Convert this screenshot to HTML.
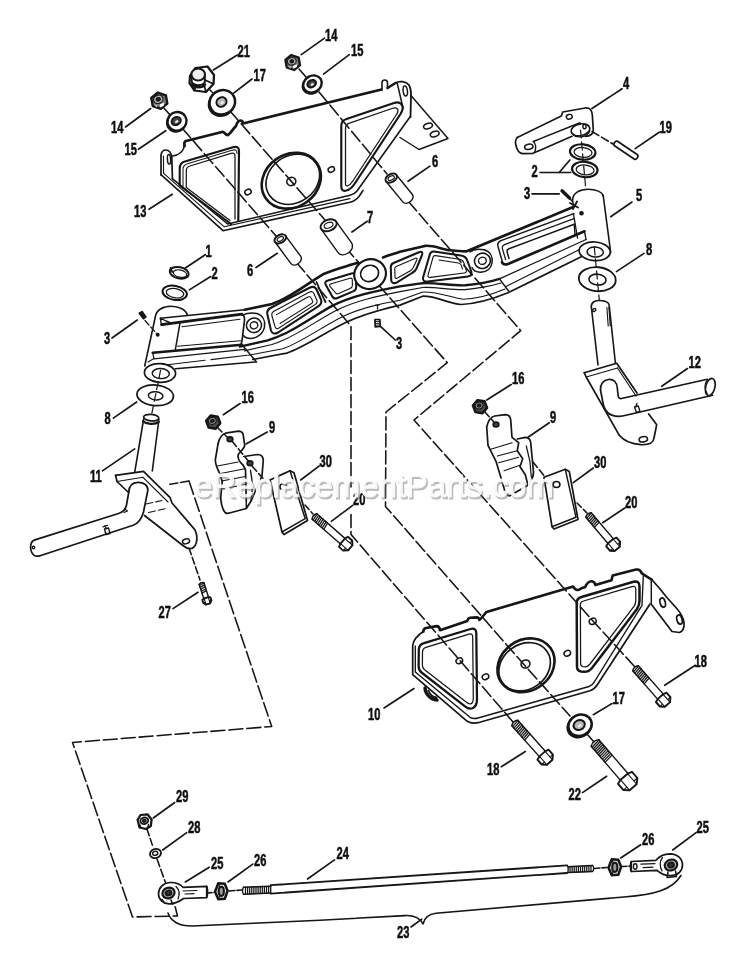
<!DOCTYPE html>
<html><head><meta charset="utf-8"><title>Front Axle Assembly - Parts Diagram</title>
<style>
html,body{margin:0;padding:0;background:#fff;}
body{width:750px;height:967px;overflow:hidden;font-family:"Liberation Sans",sans-serif;}
svg{display:block}
svg path, svg line, svg ellipse{stroke:#141414;fill:none;stroke-linecap:round;stroke-linejoin:round}
svg text{font-family:"Liberation Sans",sans-serif;font-weight:bold;fill:#111;stroke:none}
</style></head><body>
<svg width="750" height="967" viewBox="0 0 750 967">
<defs><filter id="soft" x="-2%" y="-2%" width="104%" height="104%"><feGaussianBlur stdDeviation="0.45"/></filter></defs>
<rect x="0" y="0" width="750" height="967" style="fill:#fff;stroke:none"/>
<g filter="url(#soft)">
<path d="M163,107 L171,116" stroke-width="1.55" stroke-dasharray="13 4"/>
<path d="M182,128 L276,236" stroke-width="1.55" stroke-dasharray="13 4"/>
<path d="M296,262 L351,326 L351,487" stroke-width="1.55" stroke-dasharray="13 4"/>
<path d="M351,514.5 L351,534.5 L459.5,660 L513,722" stroke-width="1.55" stroke-dasharray="13 4"/>
<path d="M210,90 L214,94" stroke-width="1.55" stroke-dasharray="13 4"/>
<path d="M230,111 L325,220" stroke-width="1.55" stroke-dasharray="13 4"/>
<path d="M345,247 L447.3,362.7 L386,412 L385.5,506.5 L523.5,664 L570,716" stroke-width="1.55" stroke-dasharray="13 4"/>
<path d="M587,734 L594,742" stroke-width="1.55" stroke-dasharray="13 4"/>
<path d="M299,69 L306,77" stroke-width="1.55" stroke-dasharray="13 4"/>
<path d="M319,92 L387,174" stroke-width="1.55" stroke-dasharray="13 4"/>
<path d="M408,201 L520.7,330.7 L414,420 L593,621 L635,667" stroke-width="1.55" stroke-dasharray="13 4"/>
<path d="M592,131.5 L613,144" stroke-width="1.55" stroke-dasharray="8 3"/>
<path d="M217,427 L228,438" stroke-width="1.55" stroke-dasharray="7 3"/>
<path d="M232,441 L250,463" stroke-width="1.55" stroke-dasharray="7 3"/>
<path d="M252,466 L268,484" stroke-width="1.55" stroke-dasharray="7 3"/>
<path d="M305,505 L313,514" stroke-width="1.55" stroke-dasharray="6 3"/>
<path d="M484.5,411.5 L493.5,421.5" stroke-width="1.55" stroke-dasharray="7 3"/>
<path d="M533,462 L546,478" stroke-width="1.55" stroke-dasharray="7 3"/>
<path d="M577,503 L587,513" stroke-width="1.55" stroke-dasharray="6 3"/>
<path d="M189,548 L200,580" stroke-width="1.55" stroke-dasharray="7 3"/>
<path d="M169.9,484.3 L189,481" stroke-width="1.55" stroke-dasharray="8 3"/>
<path d="M189,481 L271.7,726.5 L72.5,742.5 L132.5,917 L177.5,916 L174.5,904" stroke-width="1.55" stroke-dasharray="14 4"/>
<path d="M147,829 L153,847" stroke-width="1.55" stroke-dasharray="7 3"/>
<path d="M157,859 L166,884" stroke-width="1.55" stroke-dasharray="8 3"/>
<path d="M207,893 L214,892.5" stroke-width="1.55" stroke-dasharray="5 2"/>
<path d="M229,891 L242,890" stroke-width="1.55" stroke-dasharray="6 2"/>
<path d="M594,868.5 L607,867.5" stroke-width="1.55" stroke-dasharray="6 2"/>
<path d="M622,866.5 L631,866" stroke-width="1.55" stroke-dasharray="5 2"/>
<path d="M410.5,95 L448,138.5 L419,149.5 L400,137.5" stroke-width="1.47" />
<ellipse cx="428" cy="126" rx="4.6" ry="2.6" stroke-width="1.47" fill="none" transform="rotate(-20 428 126)"/>
<ellipse cx="434.7" cy="134" rx="4.6" ry="2.6" stroke-width="1.47" fill="none" transform="rotate(-20 434.7 134)"/>
<path d="M184.5,146 C184,143 184.5,141.5 186,141 L222,132 C224.5,131.5 225.5,135.5 228,135 C230,134 233,129 236,126 C237,122.5 238.5,120.5 240.5,120.5 C242,120.5 242.8,122 243,123.5 L381.5,89.5" stroke-width="2.71" />
<path d="M184.5,145 C184,151 179,155.5 172.5,156" stroke-width="1.47" />
<path d="M161,175 L161,155 C161.5,151.5 163.5,150 166,150 C169,150 171,152.5 171.8,157 L172.4,178.5" stroke-width="1.69" />
<path d="M163.5,173 L163.5,156" stroke-width="1.13" />
<ellipse cx="169" cy="159.3" rx="1.6" ry="4.8" stroke-width="1.47" fill="none" transform="rotate(-3 169 159.3)"/>
<path d="M161,174.7 L223,230.7 L350,202.3 C354,201.3 357,199 359,196.5 L363,190.5" stroke-width="1.58" />
<path d="M163.7,173.3 L224.3,226.8 L350,198.6" stroke-width="1.13" />
<path d="M172.3,178.7 L227.7,224 L350,195.3 C353.5,194.5 355.5,193 357,191 L410.3,116.5" stroke-width="1.58" />
<path d="M382,90 L382,82.7 A2.75,2.75 0 0 1 387.5,82.7 L387.5,88.5" stroke-width="1.58" style="fill:#fff"/>
<path d="M387.5,88 L395.5,83" stroke-width="2.49" />
<path d="M395.5,83 C399,80.5 406,81.3 409,85 C410.8,88 411,92 411,95 L410.5,117" stroke-width="1.81" />
<path d="M397.3,83.5 L403,108" stroke-width="1.47" />
<ellipse cx="405.3" cy="91" rx="2.1" ry="5" stroke-width="1.47" fill="none" transform="rotate(-8 405.3 91)"/>
<path d="M179.7,185.5 L179.7,168.5 C179.7,164 182,162 185.7,161.2 L233,147.2 C237,146.2 239,147.5 239,151 L238.3,220.5 M179.7,185.5 L231,224" stroke-width="2.15" />
<path d="M186.3,187.5 L186.3,171 C186.3,168 187.5,166.6 190,166 L231,153.3 C234,152.5 235,153.5 235,156 L235,219 M186.3,187.5 L230,220.5" stroke-width="1.24" />
<path d="M183,186.5 L183,169.5 C183,166 184.5,164.5 187.5,163.7 L232,150.2 C236,149.2 237,150.5 237,153.5" stroke-width="1.02" />
<path d="M341.3,186 L341.3,126 C341.3,122 343,120 346.5,119 L394,103 C398.5,101.5 402,103 402.7,107 C403,109 402,111.5 400.5,114 L354.5,184 C351.5,188.5 349.5,190 345.5,190.8 C342.5,191.3 341.3,189.5 341.3,186 Z" stroke-width="2.15" />
<path d="M345.5,184 L345.5,128.5 C345.5,125.5 346.7,124 349.5,123.2 L392,108.5 C395.5,107.3 398,108 398,110.5 C398,111.8 397.5,113 396.5,114.5 L352.5,181.5 C350.8,184 349.5,185.3 347.5,185.8 C346,186 345.5,185.5 345.5,184 Z" stroke-width="1.24" />
<ellipse cx="291.3" cy="180.7" rx="31" ry="26.3" stroke-width="2.6" fill="none" transform="rotate(-35 291.3 180.7)"/>
<ellipse cx="292.8" cy="179.3" rx="28.3" ry="23.4" stroke-width="1.58" fill="none" transform="rotate(-35 292.8 179.3)"/>
<ellipse cx="291.3" cy="181.5" rx="4.6" ry="4" stroke-width="1.58" fill="none" transform="rotate(-20 291.3 181.5)"/>
<ellipse cx="248" cy="192" rx="3.3" ry="2.6" stroke-width="1.47" fill="none" transform="rotate(-25 248 192)"/>
<ellipse cx="331.3" cy="169.5" rx="3.3" ry="2.6" stroke-width="1.47" fill="none" transform="rotate(-25 331.3 169.5)"/>
<path d="M167.4,103.6 L160.8,108.9 L152.7,106.1 L151.2,97.8 L157.8,92.5 L165.9,95.3Z" stroke-width="2.3" style="fill:#777"/>
<ellipse cx="158.3" cy="99.3" rx="4.8" ry="4.1" stroke-width="1.13" style="fill:#b5b5b5" transform="rotate(-15 158.3 99.3)"/>
<ellipse cx="158.3" cy="99.3" rx="2.1" ry="1.7" stroke-width="1.13" style="fill:#222" transform="rotate(-15 158.3 99.3)"/>
<path d="M159.5,104.8 L164.0,102.6 L163.8,105.7 L160.3,107.6 Z" style="fill:#fff;stroke:none"/>
<path d="M154.0,104.3 L157.2,105.4 L156.7,107.6 Z" style="fill:#ddd;stroke:none"/>
<ellipse cx="176.3" cy="122.5" rx="9.6" ry="9.2" stroke-width="1.93" style="fill:#fff" transform="rotate(-30 176.3 122.5)"/>
<ellipse cx="177" cy="121.3" rx="9.6" ry="9.2" stroke-width="2.37" style="fill:#fff" transform="rotate(-30 177 121.3)"/>
<ellipse cx="176.2" cy="121.0" rx="4.8" ry="3.9" stroke-width="1.93" style="fill:#444" transform="rotate(-30 176.2 121.0)"/>
<ellipse cx="176.8" cy="121.7" rx="2.0" ry="1.3" stroke-width="0.11" style="fill:#eee" transform="rotate(-30 176.8 121.7)"/>
<path d="M190,76 L195.5,68 L207.5,66.5 L214,75 L213.5,84 L206,92 L194.5,90.5 L189.5,83 Z" stroke-width="2.26" style="fill:#fff"/>
<ellipse cx="198.2" cy="74.5" rx="6.8" ry="6" stroke-width="2.03" style="fill:#eee"/>
<path d="M191.6,76.5 L191.8,82 C193.5,85.8 201.5,86.5 204.8,82.5 L204.9,76" stroke-width="1.92" />
<path d="M194.5,90.5 L196,85.2 M206,92 L204,84.5 M213.5,84 L205,80" stroke-width="1.69" />
<path d="M192,84.5 C195,88 202,88.5 205,84.5" stroke-width="2.49" />
<ellipse cx="221.5" cy="103.7" rx="13" ry="12" stroke-width="2.03" style="fill:#fff" transform="rotate(-30 221.5 103.7)"/>
<ellipse cx="222.3" cy="102.3" rx="13" ry="12" stroke-width="2.49" style="fill:#fff" transform="rotate(-30 222.3 102.3)"/>
<ellipse cx="221.5" cy="102.0" rx="5.2" ry="4.6" stroke-width="2.03" style="fill:#bbb" transform="rotate(-30 221.5 102.0)"/>
<ellipse cx="222.1" cy="102.7" rx="2.2" ry="1.6" stroke-width="0.11" style="fill:#eee" transform="rotate(-30 222.1 102.7)"/>
<path d="M300.0,65.1 L294.1,70.0 L286.7,67.4 L285.4,59.9 L291.3,55.0 L298.7,57.6Z" stroke-width="2.3" style="fill:#777"/>
<ellipse cx="291.8" cy="61.3" rx="4.4" ry="3.7" stroke-width="1.13" style="fill:#b5b5b5" transform="rotate(-15 291.8 61.3)"/>
<ellipse cx="291.8" cy="61.3" rx="1.9" ry="1.6" stroke-width="1.13" style="fill:#222" transform="rotate(-15 291.8 61.3)"/>
<path d="M292.9,66.2 L297.0,64.2 L296.8,67.0 L293.6,68.7 Z" style="fill:#fff;stroke:none"/>
<path d="M287.9,65.8 L290.8,66.8 L290.4,68.7 Z" style="fill:#ddd;stroke:none"/>
<ellipse cx="311.8" cy="85.2" rx="9.6" ry="8.2" stroke-width="1.93" style="fill:#fff" transform="rotate(-30 311.8 85.2)"/>
<ellipse cx="312.5" cy="84" rx="9.6" ry="8.2" stroke-width="2.37" style="fill:#fff" transform="rotate(-30 312.5 84)"/>
<ellipse cx="311.7" cy="83.7" rx="4.6" ry="3.5" stroke-width="1.93" style="fill:#444" transform="rotate(-30 311.7 83.7)"/>
<ellipse cx="312.3" cy="84.4" rx="1.9" ry="1.2" stroke-width="0.11" style="fill:#eee" transform="rotate(-30 312.3 84.4)"/>
<path d="M395.9,174.2 L412.2,194.2 C416.1,198.9 406.6,206.6 402.8,201.9 L386.5,182.0" stroke-width="1.4" style="fill:#fff"/>
<ellipse cx="391.2" cy="178.1" rx="6.2" ry="4.0" stroke-width="1.92" style="fill:#fff" transform="rotate(-28 391.2 178.1)"/>
<ellipse cx="391.2" cy="178.1" rx="3.4" ry="2.0" stroke-width="1.13" fill="none" transform="rotate(-28 391.2 178.1)"/>
<path d="M285.2,235.3 L300.6,256.2 C304.2,261.1 294.4,268.3 290.8,263.4 L275.4,242.5" stroke-width="1.4" style="fill:#fff"/>
<ellipse cx="280.3" cy="238.9" rx="6.2" ry="4.0" stroke-width="1.92" style="fill:#fff" transform="rotate(-28 280.3 238.9)"/>
<ellipse cx="280.3" cy="238.9" rx="3.4" ry="2.0" stroke-width="1.13" fill="none" transform="rotate(-28 280.3 238.9)"/>
<path d="M335.3,220.4 L351.6,242.9 C356.4,249.6 343.0,259.3 338.1,252.6 L321.9,230.2" stroke-width="1.4" style="fill:#fff"/>
<ellipse cx="328.6" cy="225.3" rx="8.5" ry="5.5" stroke-width="1.92" style="fill:#fff" transform="rotate(-22 328.6 225.3)"/>
<ellipse cx="328.6" cy="225.3" rx="4.6" ry="2.7" stroke-width="1.13" fill="none" transform="rotate(-22 328.6 225.3)"/>
<path d="M155.3,317 C156,310 163,306.3 171,306.3 C179,306.3 186.5,310 187.3,315.3" stroke-width="1.58" />
<path d="M155.3,317 L144.7,366" stroke-width="1.58" />
<ellipse cx="160" cy="373" rx="15.6" ry="9.3" stroke-width="1.69" style="fill:#fff" transform="rotate(3 160 373)"/>
<ellipse cx="160.8" cy="373.6" rx="8.6" ry="5" stroke-width="1.47" fill="none" transform="rotate(3 160.8 373.6)"/>
<path d="M160.3,318.2 L244.7,309.8" stroke-width="1.47" />
<path d="M160.3,318.2 L161.5,325 L172,323.4 L166,321 Z" stroke-width="1.36" />
<path d="M161.5,324.6 L242,314.2" stroke-width="2.71" />
<path d="M241.7,314 C244.6,315.2 244.8,318 244.4,321 L242.6,336 C242.2,340 241.6,343 240.8,344.6" stroke-width="1.69" />
<path d="M180,323 L175.3,349.8" stroke-width="1.47" />
<path d="M182,326.8 L240,319.2" stroke-width="1.13" />
<path d="M177.5,346.2 L240.5,340.8" stroke-width="1.02" />
<path d="M152.7,352.7 L242,344.7" stroke-width="2.6" />
<path d="M152.7,352.7 L154,358.8 L244.5,349.3" stroke-width="1.24" />
<path d="M154,358.6 L148,362" stroke-width="1.13" />
<path d="M167.3,364.7 L205,360.3 M211,359.6 L247.3,355.3" stroke-width="1.13" />
<path d="M175.3,368.7 L255.3,362" stroke-width="1.58" />
<path d="M242,315.3 C246,313.5 252,312.5 257,313.5 C263,315.5 265.5,321 264.5,327 C263.5,333 258,338 251,338.5 C247,338.5 244.5,337 243.5,335.5" stroke-width="1.47" />
<ellipse cx="254" cy="325.3" rx="7.6" ry="7.2" stroke-width="1.58" style="fill:#fff" transform="rotate(-15 254 325.3)"/>
<ellipse cx="254" cy="325.3" rx="3.8" ry="3.5" stroke-width="1.36" fill="none" transform="rotate(-15 254 325.3)"/>
<path d="M242,344.7 L256.5,362" stroke-width="1.47" />
<path d="M244.7,309.8 L272,304 C290,298 305,285 323,274.3 C335,269 348,266 358,262.6" stroke-width="2.6" />
<path d="M383,257.4 C390,255 395,253.5 400,251.7 L424.8,245.9 C434,245 442,249.5 450.4,250.3 C457,251 462,251.5 466.7,251.3 L572.5,207.3" stroke-width="2.6" />
<path d="M270.5,308 L310,287.5 C313.5,286 315.5,287 316.8,290 L321,299.5 C322,302.5 321,304.5 318.5,306.2 L278,332.5 C274.5,334.5 272,333.5 271,330.5 L267.3,314 C266.8,311 268,309.2 270.5,308 Z" stroke-width="2.03" />
<path d="M273.5,311.6 L309,292.2 C311.5,291 313,291.6 313.8,293.6 L316.8,300 C317.6,302 317,303.3 315,304.6 L279,328 C277,329.2 275.6,328.6 275,326.6 L272,316 C271.4,313.8 272,312.5 273.5,311.6 Z" stroke-width="1.13" />
<path d="M276.5,314.6 L308,297 C309.5,296.2 310.5,296.6 311,297.8 L312.6,301 C313,302 312.6,302.8 311.5,303.5 L280,323.5" stroke-width="1.02" />
<path d="M316.5,282 C319,288 322,295 325.5,302" stroke-width="1.81" />
<path d="M328,280.5 L351.5,273.5 C354.5,272.7 356,274 356,276.5 L356.2,287 C356.2,289.5 355,290.8 352.5,291.6 L337.5,298 C334.8,299 333,298.3 332,296 L325.6,284.6 C324.6,282.4 325.5,281.2 328,280.5 Z" stroke-width="2.03" />
<path d="M330.5,284 L350,278.2 C351.6,277.8 352.3,278.5 352.3,280 L352.4,285.5 C352.4,287 351.6,287.8 350,288.4 L338.6,293.5 C337,294.2 336,293.8 335.3,292.5 L330,286.3 C329.3,285 329.5,284.3 330.5,284 Z" stroke-width="1.13" />
<ellipse cx="370.1" cy="274.1" rx="16" ry="14.8" stroke-width="2.15" style="fill:#fff" transform="rotate(-20 370.1 274.1)"/>
<ellipse cx="369.6" cy="273.4" rx="9.2" ry="8" stroke-width="1.69" fill="none" transform="rotate(-20 369.6 273.4)"/>
<path d="M393.5,263 L419,252.2 C422,251.2 423,252.5 422,255 L416.5,268.5 C415.5,270.7 414,272 412,273 L397,282.3 C393.5,284 391.3,283 391.2,280 L390.8,267 C390.8,264.8 391.5,263.8 393.5,263 Z" stroke-width="2.03" />
<path d="M396.2,266.5 L415.5,258.3 C417,257.8 417.4,258.5 416.8,260 L413,268 C412.3,269.3 411.4,270.2 410,271 L397.5,278 C395.8,278.8 395,278.3 395,276.8 L394.8,268.5 C394.8,267.3 395.2,266.9 396.2,266.5 Z" stroke-width="1.13" />
<path d="M434,251.6 L461,255.5 C464.5,256 466.3,257.5 467.3,260.5 L471.3,271.5 C472.2,274.5 471,276 468,276.5 L428,281.5 C424,282 422.2,280.3 423.2,277 L429.8,254.5 C430.5,252.2 431.8,251.4 434,251.6 Z" stroke-width="2.03" />
<path d="M435.5,255.6 L459.5,259.3 C462,259.7 463.2,260.7 463.8,262.6 L466.3,270.2 C466.8,272 466,272.8 464,273 L430.5,277.4 C428.3,277.7 427.5,276.7 428.2,274.6 L433,257.3 C433.5,255.8 434.2,255.4 435.5,255.6 Z" stroke-width="1.13" />
<path d="M439,260 L458.5,263 C460,263.3 460.8,264 461.2,265.2 L462.5,269" stroke-width="1.02" />
<path d="M470,252 C473,249.5 479,248.8 484,249.8 C490.5,251.5 493,257 492,263 C491,268.5 486.5,271.8 481,272.2 C476,272.3 473,270 472,267.5" stroke-width="1.47" />
<ellipse cx="482.4" cy="260.8" rx="8" ry="7.6" stroke-width="1.58" style="fill:#fff" transform="rotate(-15 482.4 260.8)"/>
<ellipse cx="482.4" cy="260.8" rx="3.9" ry="3.6" stroke-width="1.36" fill="none" transform="rotate(-15 482.4 260.8)"/>
<path d="M240,346.7 L267.7,340.3 C290,334 310,318 331.7,306.1 C352,296 375,291 400,286.3 L422.7,283.2 C437,282.5 452,286 465.3,285.3 C478,284 490,282 499.5,278.9" stroke-width="2.37" />
<path d="M499.5,278.9 L586,239.5" stroke-width="1.24" />
<path d="M244.3,350.9 L272,344.5 C294,338 314,322 336,310.4 C356,300.5 378,296 400,291.6 L422.7,287.5 C437,286.8 452,290.3 465.3,289.6 C478,288.3 490,286.3 501,283" stroke-width="1.13" />
<path d="M248.5,355.2 L282.7,348.8 C300,343 322,327 342.4,316.8 C360,308 380,304 400,300.3 L422.7,292 C437,291.5 450,297 463,299.3 C478,298.5 492,294.5 505,289" stroke-width="1.13" />
<path d="M252.8,359.5 L286.9,353.1 C305,347 325,332.5 346.7,322.1 C364,314 383,309 400,305.1 L422.7,296.2 C437,296 449,304 461,304.5 C478,304 494,298.5 508,292.8 L581.3,256.7" stroke-width="1.69" />
<path d="M499.5,278.9 L508.5,291" stroke-width="1.47" />
<path d="M506,286.5 L583.5,247.5" stroke-width="1.13" />
<path d="M573.8,213.6 L501,240.6 C498,241.7 497.2,243.3 498,246.5 L502.3,261.5" stroke-width="1.47" />
<path d="M573.9,218.6 L504.5,244.6 C502.3,245.5 501.8,246.6 502.4,248.6 L505.6,259.5" stroke-width="1.24" />
<path d="M574.2,224.2 L509,248.7 C507,249.5 506.6,250.5 507.2,252.3 L509,258.5" stroke-width="1.47" />
<path d="M502,262.3 C503,264.6 505,265 508,264 L584.5,231.3" stroke-width="2.6" />
<path d="M574.2,224.2 L575,234.6" stroke-width="1.36" />
<path d="M584.5,231.3 L586,239.5" stroke-width="1.36" />
<path d="M572.6,199.5 C573,193 580,189.2 588,189.2 C596,189.2 602.5,192 603.2,196" stroke-width="1.58" />
<path d="M603.2,195.5 L610.7,252.7" stroke-width="1.58" />
<path d="M572.6,199.5 L573.5,207" stroke-width="1.47" />
<path d="M573.5,214 L577.5,238" stroke-width="1.36" />
<ellipse cx="594.7" cy="251.3" rx="15.6" ry="9.3" stroke-width="1.69" style="fill:#fff" transform="rotate(4 594.7 251.3)"/>
<ellipse cx="595.2" cy="252" rx="8.2" ry="5" stroke-width="1.47" fill="none" transform="rotate(4 595.2 252)"/>
<path d="M570,203 L578,207.5 M577,201.5 L573,209" stroke-width="1.81" />
<ellipse cx="581.5" cy="213.3" rx="1.4" ry="1.4" stroke-width="1.81" style="fill:#111"/>
<ellipse cx="157.7" cy="334.8" rx="1.2" ry="1.2" stroke-width="1.58" style="fill:#111"/>
<path d="M145,320.5 L156.8,333.8" stroke-width="1.24" stroke-dasharray="6 2.5"/>
<ellipse cx="179.2" cy="272.8" rx="9.6" ry="5.6" stroke-width="2.03" style="fill:#fff" transform="rotate(12 179.2 272.8)"/>
<ellipse cx="180" cy="273.6" rx="6.8" ry="3.6" stroke-width="1.13" fill="none" transform="rotate(12 180 273.6)"/>
<path d="M170.5,268 L172.3,272" stroke-width="1.81" />
<ellipse cx="174.7" cy="292.8" rx="12.3" ry="7" stroke-width="2.03" style="fill:#fff" transform="rotate(10 174.7 292.8)"/>
<ellipse cx="175" cy="293.2" rx="8.8" ry="4.6" stroke-width="1.24" fill="none" transform="rotate(10 175 293.2)"/>
<path d="M139.8,313.2 L143.6,318.2 M141.8,312 L145.4,317" stroke-width="2.6" />
<path d="M375,319.5 L379.8,319.5 L380.2,326.5 L375.2,326.8 Z" stroke-width="1.69" />
<path d="M375,321.5 L380,321.3 M375.2,323.5 L380.2,323.3 M375.3,325.2 L380.2,325" stroke-width="1.02" />
<path d="M375.5,305 L379.5,305 M377.5,305 L377.5,309" stroke-width="1.24" />
<ellipse cx="155.2" cy="395.3" rx="18.3" ry="10.3" stroke-width="1.69" style="fill:#fff" transform="rotate(5 155.2 395.3)"/>
<ellipse cx="155.6" cy="395.8" rx="7.3" ry="4.1" stroke-width="1.47" fill="none" transform="rotate(5 155.6 395.8)"/>
<ellipse cx="597.3" cy="279.2" rx="18.5" ry="12" stroke-width="1.81" style="fill:#fff" transform="rotate(5 597.3 279.2)"/>
<ellipse cx="597.5" cy="279.6" rx="8.6" ry="5.4" stroke-width="1.58" fill="none" transform="rotate(5 597.5 279.6)"/>
<ellipse cx="582.7" cy="152" rx="12.8" ry="7.7" stroke-width="2.15" style="fill:#fff" transform="rotate(5 582.7 152)"/>
<ellipse cx="583" cy="152.4" rx="9" ry="4.9" stroke-width="1.24" fill="none" transform="rotate(5 583 152.4)"/>
<ellipse cx="584.8" cy="169.5" rx="12.8" ry="7.7" stroke-width="2.15" style="fill:#fff" transform="rotate(5 584.8 169.5)"/>
<ellipse cx="585.1" cy="169.9" rx="9" ry="4.9" stroke-width="1.24" fill="none" transform="rotate(5 585.1 169.9)"/>
<path d="M562,190.8 L569.5,198" stroke-width="3.39" />
<path d="M568.5,197 L572,201" stroke-width="1.36" />
<path d="M614.5,145.7 L634.5,159.2 C636.5,160.2 639,156.2 637.5,154.8 L617.5,141.3 C615.3,140.2 612.8,144.2 614.5,145.7 Z" stroke-width="1.69" style="fill:#fff"/>
<path d="M517.3,137.5 L561.3,116 L562.7,112 L585.3,108 C589.5,107.5 592,110 592.3,114.7 L593.3,130 C593.5,134 590,136 585.3,136.5" stroke-width="1.69" />
<path d="M517.3,137.5 C515.3,139.5 515.3,143 516,145.5 C517,150 519,153.3 522.5,153.6 L533,153.3 L572,136.3" stroke-width="1.69" />
<path d="M533.3,141.5 L580,122.7" stroke-width="1.47" />
<path d="M533.3,141.5 C535.5,143.5 536.3,147.5 534.7,152" stroke-width="1.36" />
<ellipse cx="580.5" cy="129.8" rx="9.5" ry="5.8" stroke-width="1.69" fill="none" transform="rotate(-12 580.5 129.8)"/>
<path d="M572.5,133.5 C574,137.8 585,138.8 589.5,131.8" stroke-width="1.24" />
<ellipse cx="584.5" cy="126.5" rx="1.6" ry="2.2" stroke-width="1.36" fill="none"/>
<ellipse cx="569.3" cy="116.8" rx="3" ry="2.3" stroke-width="1.47" fill="none" transform="rotate(-15 569.3 116.8)"/>
<ellipse cx="528.8" cy="146.8" rx="4.2" ry="2.6" stroke-width="1.58" fill="none" transform="rotate(-12 528.8 146.8)"/>
<path d="M591.3,306.5 C591.5,301.5 596,300.3 600,300.5 C605,300.7 609,302 609.2,305.5 L615.4,363" stroke-width="1.58" />
<path d="M591.3,306.5 L598,365" stroke-width="1.58" />
<ellipse cx="594.2" cy="310" rx="1.8" ry="1.3" stroke-width="1.36" fill="none" transform="rotate(-30 594.2 310)"/>
<path d="M606.9,307.5 L608.2,326 M608.9,307.3 L610.2,325.8" stroke-width="1.13" />
<path d="M584.2,372.7 L616.7,363.3 L637,393" stroke-width="1.69" />
<path d="M584.2,372.7 L586.2,377 L619.3,435.3 C624,441 632,444 640.7,444.7 C648,445 653.5,443 654,438 L656.7,424.7 L648.7,414" stroke-width="1.69" />
<path d="M586.2,377 L617.5,368" stroke-width="1.13" />
<path d="M617.5,368 L636,396" stroke-width="1.13" />
<ellipse cx="643.3" cy="439.3" rx="4.2" ry="2.6" stroke-width="1.58" fill="none" transform="rotate(-10 643.3 439.3)"/>
<path d="M600.5,390 C600,384 603.5,380 608.5,379.5 C614,379 617,382.5 617.3,388 L618.2,396 C618.5,398.3 620,399 622.5,398.3 L707.3,379.3" stroke-width="1.69" />
<path d="M600.5,390 L603,403 C604.5,411.5 610,416.5 619,416.3 C622,416.2 625,415.5 627,415 L712.7,395.3" stroke-width="1.69" />
<ellipse cx="710.3" cy="387" rx="4.6" ry="8.8" stroke-width="1.69" style="fill:#fff" transform="rotate(14 710.3 387)"/>
<path d="M706.8,380.5 C704,384 704.5,390 707.2,393.5" stroke-width="1.13" />
<path d="M634.5,407 L636.5,412.5 L640,411.5 L638.3,406 Z" stroke-width="1.36" />
<path d="M636,406 L637,403.5" stroke-width="1.36" />
<ellipse cx="151.2" cy="417.6" rx="7.6" ry="3.2" stroke-width="1.69" style="fill:#fff" transform="rotate(5 151.2 417.6)"/>
<path d="M143.7,418.5 L143.3,421 M158.9,419.3 L158.6,422" stroke-width="1.36" />
<path d="M143.2,421 C146,424.3 155,424.8 158.7,421.8" stroke-width="2.26" />
<path d="M143.3,421 L134.7,472.4" stroke-width="1.58" />
<path d="M158.6,422 L152.3,471" stroke-width="1.58" />
<path d="M115.6,475.3 L143.5,471.3 L169.9,497.3 L172,503 L194.8,529.6 C197,534 197.3,539 196.3,542.8 C195,547 192,549 189,548.7 C186,548 184,546.5 181,544 L144.5,515.5" stroke-width="1.69" />
<path d="M115.6,475.3 L117,481.5 L128,492" stroke-width="1.69" />
<path d="M117,481.5 L143,477.3 L168,502" stroke-width="1.13" />
<ellipse cx="186" cy="541.3" rx="3.6" ry="2.4" stroke-width="1.47" fill="none" transform="rotate(-15 186 541.3)"/>
<path d="M146,504 L162,500.5 M148.5,512.5 L166,508.5" stroke-width="1.13" stroke-dasharray="7 3"/>
<path d="M128.8,492 C129,486 132.5,482.5 138,482.3 C143.5,482.2 147.8,485 147.9,490 L143.5,512 C141.5,519.5 138,523.5 133.2,525.2 L39.3,556" stroke-width="1.69" />
<path d="M128.8,492 L126.5,505 C125.5,509.5 123,512.3 118.5,513.5 L34.9,539.9" stroke-width="1.69" />
<path d="M34.9,539.9 C31.5,541 30.2,545 30.8,549.5 C31.5,554 34.5,557 39.3,556" stroke-width="1.69" />
<ellipse cx="33.5" cy="547.5" rx="1.3" ry="1.3" stroke-width="1.24" fill="none"/>
<path d="M104.5,529 L106,534.5 L110,533.5 L108.5,528 Z" stroke-width="1.36" />
<path d="M106,528.5 L105,525.5 M103,526.8 L107.5,525.3" stroke-width="1.24" />
<path d="M124.5,509 L127.5,511 L124,512.5" stroke-width="1.13" />
<path d="M220.3,423.3 L215.7,428.7 L208.6,427.5 L206.1,420.9 L210.7,415.5 L217.8,416.7Z" stroke-width="2.4" style="fill:#4a4a4a"/>
<ellipse cx="212.3" cy="420.9" rx="4.0" ry="3.5" stroke-width="1.13" style="fill:#8a8a8a" transform="rotate(-15 212.3 420.9)"/>
<ellipse cx="212.3" cy="420.9" rx="1.8" ry="1.4" stroke-width="1.13" style="fill:#222" transform="rotate(-15 212.3 420.9)"/>
<path d="M 218.0 444.0 C 219.0 439.0 221.5 434.5 225.5 433.2 L 238.5 431.2 C 241.8 431.3 243.5 433.5 243.5 437.0 L 244.7 445.5 C 244.0 449.0 240.0 452.0 238.2 454.5 C 237.5 458.0 239.5 462.0 243.0 465.0 L 245.5 470.0 L 246.3 501.0" stroke-width="1.69" />
<path d="M 218.0 444.0 L 215.3 460.0 C 215.5 464.0 217.0 468.0 219.0 472.0 L 222.3 481.5 L 220.7 497.5 C 221.0 503.0 222.3 508.0 224.0 511.0 C 225.0 513.0 226.5 513.6 228.5 513.2 L 246.3 508.5 C 248.0 506.0 249.5 503.5 251.3 500.5 L 262.0 476.0 L 263.3 460.0 C 263.0 456.0 260.5 454.5 257.5 454.5 L 243.8 456.5" stroke-width="1.69" />
<path d="M 246.3 501.0 L 246.3 508.5" stroke-width="1.47" />
<path d="M 250.5 470.5 C 252.0 478.0 253.5 487.0 251.0 500.0" stroke-width="1.36" />
<ellipse cx="230" cy="439.2" rx="2.8" ry="2.4" stroke-width="1.69" style="fill:#444"/>
<ellipse cx="250" cy="463.2" rx="2.8" ry="2.4" stroke-width="1.69" style="fill:#444"/>
<path d="M 217.5 466.0 L 238.0 462.0 M 220.5 473.5 L 243.5 469.0 M 221.5 481.0 L 245.5 476.5 M 221.5 489.0 L 245.8 484.5" stroke-width="1.13" />
<path d="M270,480 L290,470.7 L294,472.8 L307.5,520.5 L284,534.5 L282,532 Z" stroke-width="1.69" style="fill:#fff"/>
<path d="M290,470.7 L305.2,518.7 L282,532" stroke-width="1.47" />
<ellipse cx="283.3" cy="486.7" rx="3.4" ry="3" stroke-width="1.58" fill="none"/>
<path d="M312.1,519.2 L341.1,544.5 M316.9,513.8 L345.8,539.1" stroke-width="1.4"/>
<path d="M312.1,519.2 Q312.6,514.8 316.9,513.8" stroke-width="1.4"/>
<path d="M313.1,520.1 L317.1,514.0 M314.6,521.4 L318.6,515.3 M316.1,522.7 L320.1,516.6 M317.6,524.0 L321.6,517.9 M319.1,525.3 L323.1,519.2 M320.6,526.6 L324.6,520.6 M322.2,528.0 L326.1,521.9 M323.7,529.3 L327.6,523.2" stroke-width="1.25"/>
<path d="M347.9,536.7 L352.2,540.5 L352.5,545.2 L348.1,550.3 L343.3,550.6 L339.0,546.9 L340.5,543.7 L344.9,538.6 Z" stroke-width="1.9" style="fill:#fff"/>
<path d="M344.9,538.6 L350.0,543.0 L352.5,545.2 M340.5,543.7 L345.6,548.1 L348.1,550.3 M350.0,543.0 L352.2,540.5 M345.6,548.1 L343.3,550.6" stroke-width="1.1"/>
<path d="M487.1,407.9 L482.5,413.3 L475.4,412.1 L472.9,405.5 L477.5,400.1 L484.6,401.3Z" stroke-width="2.4" style="fill:#4a4a4a"/>
<ellipse cx="479.1" cy="405.5" rx="4.0" ry="3.5" stroke-width="1.13" style="fill:#8a8a8a" transform="rotate(-15 479.1 405.5)"/>
<ellipse cx="479.1" cy="405.5" rx="1.8" ry="1.4" stroke-width="1.13" style="fill:#222" transform="rotate(-15 479.1 405.5)"/>
<path d="M486.7,427 C488,421 491,416.8 494.7,416 L505.3,414.7 C508.5,414.8 510.5,417 510.7,420 L512,437.3 L518.7,442.7 L517.3,450.7 L522.7,458.7 L520,466.7 L525.3,474.7 L528,485.3 L509.3,496 C506,495 504.5,491.5 504,488 L496,461.3 L488,445.3 Z" stroke-width="1.69" />
<path d="M517.3,439 L525.3,437.3 C528.5,437.5 530.5,440 530.7,442.7 L533.5,472 C533.5,476 532,479 530.7,480.5 L528,485.3" stroke-width="1.69" />
<path d="M526.3,446 L529.9,461.3 L531.3,477" stroke-width="1.24" />
<path d="M490.7,449.3 L512,442.7 M497.3,456 L517.3,450.7 M498.7,462.7 L518.7,457.3 M504,470.7 L520,465.3" stroke-width="1.13" />
<ellipse cx="496" cy="424.5" rx="2.8" ry="2.4" stroke-width="1.69" style="fill:#444"/>
<path d="M544,477.3 L565.3,469.3 L569.3,471.5 L578,519.5 L554,529 L552,526.7 Z" stroke-width="1.69" style="fill:#fff"/>
<path d="M565.3,469.3 L576,517.3 L552,526.7" stroke-width="1.47" />
<ellipse cx="556.5" cy="484.5" rx="3.4" ry="3" stroke-width="1.58" fill="none"/>
<path d="M585.8,517.3 L608.6,544.3 M591.2,512.7 L614.1,539.6" stroke-width="1.4"/>
<path d="M585.8,517.3 Q586.9,513.1 591.2,512.7" stroke-width="1.4"/>
<path d="M586.6,518.3 L591.4,512.9 M587.9,519.8 L592.7,514.4 M589.2,521.4 L594.0,516.0 M590.5,522.9 L595.3,517.5 M591.8,524.4 L596.6,519.0 M593.1,525.9 L597.9,520.5 M594.4,527.5 L599.2,522.1" stroke-width="1.25"/>
<path d="M616.5,537.6 L620.2,541.9 L619.8,546.7 L614.6,551.1 L609.9,550.7 L606.2,546.3 L608.1,543.3 L613.2,539.0 Z" stroke-width="1.9" style="fill:#fff"/>
<path d="M613.2,539.0 L617.6,544.1 L619.8,546.7 M608.1,543.3 L612.5,548.5 L614.6,551.1 M617.6,544.1 L620.2,541.9 M612.5,548.5 L609.9,550.7" stroke-width="1.1"/>
<path d="M199.1,584.3 L204.0,599.2 M203.9,582.7 L208.7,597.7" stroke-width="1.4"/>
<path d="M199.1,584.3 Q201.0,581.8 203.9,582.7" stroke-width="1.4"/>
<path d="M199.5,585.5 L204.0,583.0 M200.1,587.4 L204.6,584.9 M200.8,589.3 L205.2,586.8 M201.4,591.2 L205.8,588.7 M202.0,593.1 L206.4,590.6" stroke-width="1.25"/>
<path d="M210.4,597.2 L211.4,600.3 L210.1,603.3 L206.1,604.6 L203.3,602.9 L202.3,599.8 L204.1,598.5 L208.2,597.2 Z" stroke-width="1.9" style="fill:#fff"/>
<path d="M208.2,597.2 L209.4,600.9 L210.1,603.3 M204.1,598.5 L205.3,602.2 L206.1,604.6 M209.4,600.9 L211.4,600.3 M205.3,602.2 L203.3,602.9" stroke-width="1.1"/>
<path d="M651.5,579.3 L659,587.7 L667.3,598 L675.7,607.3 C680,612 683.5,618 684.1,623 C684.3,628 682.5,631.5 679.5,632.5 L672,631.5 L651.5,604.5" stroke-width="1.69" />
<ellipse cx="662.7" cy="602.6" rx="2.6" ry="4.7" stroke-width="1.69" fill="none" transform="rotate(-15 662.7 602.6)"/>
<ellipse cx="679.5" cy="619.6" rx="2.6" ry="4.7" stroke-width="1.69" fill="none" transform="rotate(-15 679.5 619.6)"/>
<path d="M651.3,580 L651.3,603.5" stroke-width="1.47" />
<path d="M423.3,631.5 C423.5,629.5 424.5,628.3 426,628 L436.7,626.1 C438.5,626 439.6,627.5 440,630.2 L467.3,621 C467.8,619 468.5,618 470,617.8 L476.5,617.4 C478,617.4 479.2,618.5 479.4,620 C482,618 484,614.5 486.5,612 L573.2,586.6 C574.5,589 576,590.3 578,590 C580.5,589.5 581,587.5 585,587.3 C586.5,584 588.5,581.3 591.5,581.3 C594,581.3 595,583.5 595.5,585 L611.5,580.3 L612.7,575.6 L636,569.6 C639,569 641,571 641.8,573.3 L651.5,579.5" stroke-width="2.6" />
<path d="M423.3,631.5 C418,635 413.5,640 412.7,645.3 L412.7,674.7 L467.3,721.3 C470,723 474,723.5 478,722.7 L590,690.7 C593.5,689.5 596,687 597.5,684.5 L650,604" stroke-width="1.69" />
<path d="M415.3,646 L415.3,672 L470,717.3 C472,718.5 475,718.8 478,718 L589,686.5 C591.5,685.5 593,684 594,682.3 L642,605.3 L643.3,576" stroke-width="1.36" />
<path d="M424,643.2 L470.5,629 C474.5,628 476.3,629.5 476.3,633 L477,699 C477,704 475.5,707 472.5,708.3 C470,709.2 467.5,708.3 465,706.3 L421.5,672.5 C419.3,670.8 418.6,669 418.6,666 L418.8,650 C418.8,646 420.3,644.2 424,643.2 Z" stroke-width="2.26" />
<path d="M426,647.3 L469,634.2 C471.8,633.5 472.7,634.5 472.7,637 L473.3,698 C473.3,701.3 472.3,703.3 470.8,703.8 C469.5,704.2 468.2,703.5 466.8,702.4 L424.3,669.5 C422.8,668.3 422.4,667.2 422.4,665.3 L422.5,652 C422.5,649.2 423.5,648 426,647.3 Z" stroke-width="1.24" />
<path d="M581.5,597 L633.5,581.8 C637.5,580.8 639.5,582.5 639.5,586.5 L639.5,601 C639.5,604 638.5,606.5 637,609 L592,668 C590,670.5 587.5,671.8 584.5,671.8 L581,671.5 C578,671 577,669.3 577,666.5 L576.7,603 C576.7,599.5 578,597.8 581.5,597 Z" stroke-width="2.49" />
<path d="M583.5,601 L632,586.6 C634.8,586 635.8,587 635.8,589.5 L635.8,600.5 C635.8,602.7 635.2,604.5 634,606.3 L590,664 C588.6,665.8 587,666.8 585,666.8 L583,666.6 C581.3,666.3 580.6,665.3 580.6,663.5 L580.4,604.5 C580.4,602.3 581.3,601.5 583.5,601 Z" stroke-width="1.24" />
<ellipse cx="526" cy="665.3" rx="30" ry="25.3" stroke-width="2.6" fill="none" transform="rotate(-35 526 665.3)"/>
<ellipse cx="524.6" cy="666.8" rx="27.3" ry="22.4" stroke-width="1.69" fill="none" transform="rotate(-35 524.6 666.8)"/>
<ellipse cx="525.5" cy="664" rx="4.5" ry="3.9" stroke-width="1.58" fill="none" transform="rotate(-20 525.5 664)"/>
<ellipse cx="459.3" cy="660.8" rx="3.4" ry="2.7" stroke-width="1.47" fill="none" transform="rotate(-25 459.3 660.8)"/>
<ellipse cx="485.5" cy="676.8" rx="3.4" ry="2.7" stroke-width="1.47" fill="none" transform="rotate(-25 485.5 676.8)"/>
<ellipse cx="567.3" cy="653.3" rx="3.4" ry="2.7" stroke-width="1.47" fill="none" transform="rotate(-25 567.3 653.3)"/>
<ellipse cx="592.7" cy="621.3" rx="3.6" ry="3" stroke-width="1.47" fill="none" transform="rotate(-25 592.7 621.3)"/>
<path d="M425,688 C425.5,694 430.5,699.5 437,700" stroke-width="3.39" />
<path d="M428.5,690.5 C430,694.5 433,697 436.5,697.5" stroke-width="1.81" />
<path d="M511.8,725.7 L540.0,757.4 M517.8,720.3 L546.0,752.0" stroke-width="1.4"/>
<path d="M511.8,725.7 Q512.9,720.9 517.8,720.3" stroke-width="1.4"/>
<path d="M512.7,726.6 L518.0,720.6 M514.0,728.1 L519.3,722.1 M515.3,729.6 L520.6,723.6 M516.7,731.1 L522.0,725.0 M518.0,732.6 L523.3,726.5 M519.3,734.1 L524.6,728.0 M520.7,735.6 L526.0,729.5 M522.0,737.1 L527.3,731.0 M523.3,738.6 L528.6,732.5 M524.6,740.1 L530.0,734.0" stroke-width="1.25"/>
<path d="M548.6,749.7 L552.9,754.6 L552.5,759.8 L546.9,764.8 L541.7,764.5 L537.4,759.7 L539.5,756.4 L545.1,751.4 Z" stroke-width="1.9" style="fill:#fff"/>
<path d="M545.1,751.4 L550.1,757.1 L552.5,759.8 M539.5,756.4 L544.5,762.0 L546.9,764.8 M550.1,757.1 L552.9,754.6 M544.5,762.0 L541.7,764.5" stroke-width="1.1"/>
<path d="M632.7,670.8 L658.3,699.9 M638.3,665.8 L664.0,694.9" stroke-width="1.4"/>
<path d="M632.7,670.8 Q633.7,666.3 638.3,665.8" stroke-width="1.4"/>
<path d="M633.5,671.8 L638.5,666.0 M634.8,673.3 L639.9,667.5 M636.2,674.8 L641.2,669.0 M637.5,676.3 L642.5,670.5 M638.8,677.8 L643.8,672.0 M640.1,679.3 L645.2,673.5 M641.5,680.8 L646.5,675.0 M642.8,682.3 L647.8,676.5 M644.1,683.8 L649.1,678.0" stroke-width="1.25"/>
<path d="M666.4,692.7 L670.4,697.2 L670.1,702.1 L664.8,706.8 L659.9,706.5 L655.9,702.0 L657.9,698.9 L663.1,694.3 Z" stroke-width="1.9" style="fill:#fff"/>
<path d="M663.1,694.3 L667.8,699.6 L670.1,702.1 M657.9,698.9 L662.5,704.2 L664.8,706.8 M667.8,699.6 L670.4,697.2 M662.5,704.2 L659.9,706.5" stroke-width="1.1"/>
<path d="M591.2,746.3 L621.2,781.1 M598.8,739.7 L628.8,774.5" stroke-width="1.4"/>
<path d="M591.2,746.3 Q592.7,740.3 598.8,739.7" stroke-width="1.4"/>
<path d="M592.1,747.2 L599.0,740.0 M593.4,748.8 L600.3,741.5 M594.7,750.3 L601.6,743.0 M596.0,751.8 L602.9,744.5 M597.3,753.3 L604.2,746.0 M598.6,754.8 L605.5,747.5 M599.9,756.3 L606.8,749.1 M601.2,757.9 L608.1,750.6 M602.5,759.4 L609.4,752.1 M603.8,760.9 L610.7,753.6 M605.1,762.4 L612.0,755.1" stroke-width="1.25"/>
<path d="M632.0,771.8 L637.4,778.0 L636.6,784.2 L629.6,790.3 L623.4,790.1 L618.0,783.8 L620.6,779.8 L627.6,773.7 Z" stroke-width="1.9" style="fill:#fff"/>
<path d="M627.6,773.7 L633.9,781.0 L636.6,784.2 M620.6,779.8 L626.9,787.1 L629.6,790.3 M633.9,781.0 L637.4,778.0 M626.9,787.1 L623.4,790.1" stroke-width="1.1"/>
<ellipse cx="579.2" cy="726.7" rx="12" ry="10.4" stroke-width="2.03" style="fill:#fff" transform="rotate(-25 579.2 726.7)"/>
<ellipse cx="580" cy="725.3" rx="12" ry="10.4" stroke-width="2.49" style="fill:#fff" transform="rotate(-25 580 725.3)"/>
<ellipse cx="579.2" cy="725.0" rx="5.8" ry="4.8" stroke-width="2.03" style="fill:#bbb" transform="rotate(-25 579.2 725.0)"/>
<ellipse cx="579.8" cy="725.7" rx="2.4" ry="1.6" stroke-width="0.11" style="fill:#eee" transform="rotate(-25 579.8 725.7)"/>
<path d="M270.7,885.2 L567,865.4 M270.7,893.6 L567,873" stroke-width="1.81" />
<path d="M270.7,885.2 L270.7,893.6 M567,865.4 C568.5,866 568.7,872.3 567,873" stroke-width="1.36" />
<path d="M243.5,887.3 L270.7,886.2 M243.5,894.2 L270.7,893" stroke-width="1.47" />
<path d="M243.5,887.3 C242.3,888 242.3,893.5 243.5,894.2" stroke-width="1.36" />
<path d="M245.5,887.1 L245.5,894.1 M247.6,887.0 L247.6,894.0 M249.7,887.0 L249.7,894.0 M251.8,886.9 L251.8,893.9 M253.9,886.8 L253.9,893.8 M256.0,886.7 L256.0,893.7 M258.1,886.6 L258.1,893.6 M260.2,886.5 L260.2,893.5 M262.3,886.4 L262.3,893.4 M264.4,886.4 L264.4,893.4 M266.5,886.3 L266.5,893.3 M268.6,886.2 L268.6,893.2" stroke-width="1.24" />
<path d="M568,866.8 L592.5,865.4 M568,872.6 L592.5,871.4" stroke-width="1.47" />
<path d="M592.5,865.4 C594,866 594,870.8 592.5,871.4" stroke-width="1.36" />
<path d="M570.0,866.6 L570.0,872.5 M572.1,866.5 L572.1,872.4 M574.2,866.4 L574.2,872.3 M576.3,866.3 L576.3,872.2 M578.4,866.2 L578.4,872.1 M580.5,866.1 L580.5,872.0 M582.6,866.0 L582.6,871.9 M584.7,865.9 L584.7,871.8 M586.8,865.8 L586.8,871.7 M588.9,865.7 L588.9,871.6 M591.0,865.6 L591.0,871.5" stroke-width="1.24" />
<path d="M218.3,883.3 L224.8,883.8 L227.60000000000002,890.8 L224.8,898.8 L218.3,899.3 L215.0,891.8 Z" stroke-width="2.49" style="fill:#ddd"/>
<ellipse cx="221.3" cy="891.3" rx="2.6" ry="4.6" stroke-width="2.03" style="fill:#999"/>
<path d="M218.3,883.3 L219.8,887.3 M218.3,899.3 L219.8,895.3" stroke-width="1.13" />
<path d="M611.8,859.3 L618.3,859.8 L621.0999999999999,866.8 L618.3,874.8 L611.8,875.3 L608.5,867.8 Z" stroke-width="2.49" style="fill:#ddd"/>
<ellipse cx="614.8" cy="867.3" rx="2.6" ry="4.6" stroke-width="2.03" style="fill:#999"/>
<path d="M611.8,859.3 L613.3,863.3 M611.8,875.3 L613.3,871.3" stroke-width="1.13" />
<path d="M206.7,886.3 L183,887.3 C180,884 175,882.3 170,882.5 C163,883 158.5,888 158.5,894 C158.5,899.5 163,903.5 169,903.8 C175,904 179.5,901.5 183.5,898.5 L206.7,897.6 Z" stroke-width="1.69" style="fill:#fff"/>
<path d="M206.7,886.3 C208,887.5 208,896.5 206.7,897.6" stroke-width="1.36" />
<ellipse cx="168.5" cy="893" rx="6.2" ry="5.2" stroke-width="2.15" style="fill:#aaa" transform="rotate(-20 168.5 893)"/>
<ellipse cx="168.5" cy="893" rx="3" ry="2.4" stroke-width="1.81" style="fill:#333" transform="rotate(-20 168.5 893)"/>
<path d="M176,886.5 C179,889.5 180,894.5 178,899 M183,891 L197,890.5 M185,894 L194,893.6" stroke-width="1.24" />
<path d="M162,899.5 L164.5,903 M171,900 L172.5,904" stroke-width="1.58" />
<path d="M631.3,861.5 L656,860.3 C659,856.5 664,853.8 670,853.8 C677.5,854 682.5,859 682.5,865 C682.5,871 678,875.3 671.5,875.6 C666,875.8 660.5,873.5 657,870.3 L631.3,871.5 Z" stroke-width="1.69" style="fill:#fff"/>
<path d="M631.3,861.5 C630,862.5 630,870.5 631.3,871.5" stroke-width="1.36" />
<ellipse cx="635.2" cy="866.5" rx="1.8" ry="2.8" stroke-width="1.36" fill="none"/>
<ellipse cx="671" cy="865" rx="6.4" ry="5.4" stroke-width="2.15" style="fill:#aaa" transform="rotate(-20 671 865)"/>
<ellipse cx="671" cy="865" rx="3" ry="2.5" stroke-width="1.81" style="fill:#333" transform="rotate(-20 671 865)"/>
<path d="M662.5,857.5 C659.5,861 659.5,867 662,871 M641,864.2 L655,863.6 M643,867.6 L653,867.2" stroke-width="1.24" />
<path d="M668,872 L667,877.5 M675.5,871 L676.5,876.5 M667,877.5 L676.5,876.5" stroke-width="1.47" />
<path d="M137.6,820 L140.5,815 L147.5,814.3 L151.6,819.5 L150.8,826 L146,829 L139.5,827.5 Z" stroke-width="2.26" style="fill:#fff"/>
<ellipse cx="144.3" cy="820.8" rx="4" ry="3.2" stroke-width="1.81" style="fill:#ddd" transform="rotate(-15 144.3 820.8)"/>
<ellipse cx="144.3" cy="820.8" rx="1.7" ry="1.3" stroke-width="1.47" style="fill:#444" transform="rotate(-15 144.3 820.8)"/>
<path d="M140,825 L141,827.8 M148.5,824.5 L147.8,828" stroke-width="1.36" />
<ellipse cx="155.5" cy="853.5" rx="5.6" ry="4.5" stroke-width="1.81" style="fill:#fff" transform="rotate(-15 155.5 853.5)"/>
<ellipse cx="155.2" cy="853.3" rx="2.6" ry="2" stroke-width="1.36" fill="none" transform="rotate(-15 155.2 853.3)"/>
<path d="M168,913 C171,921.5 180,926 192,926 L320,920.2 L405,915.6 C415,915.2 420,918 423,924 C424.5,917.5 428,914 436,913.2 L624,897 C655,894.5 672,890 681,875.5" stroke-width="1.58" />
<path d="M580.5,130 L585.6,187" stroke-width="1.2" stroke-dasharray="8 4"/>
<path d="M594.3,247 L599.3,300" stroke-width="1.2" stroke-dasharray="8 4"/>
<path d="M160.6,370 L151.3,416" stroke-width="1.2" stroke-dasharray="8 4"/>
<line x1="125.5" y1="127" x2="150.7" y2="108.5" stroke-width="1.65"/>
<line x1="138.4" y1="149.3" x2="165.7" y2="130.7" stroke-width="1.65"/>
<line x1="149" y1="209.3" x2="172.3" y2="194.3" stroke-width="1.65"/>
<line x1="213.3" y1="70" x2="237.3" y2="55" stroke-width="1.65"/>
<line x1="233.3" y1="93.3" x2="252" y2="79" stroke-width="1.65"/>
<line x1="301.3" y1="54.7" x2="324.5" y2="38.1" stroke-width="1.65"/>
<line x1="323.5" y1="74.1" x2="349.3" y2="54.7" stroke-width="1.65"/>
<line x1="408" y1="181.3" x2="429.9" y2="166.1" stroke-width="1.65"/>
<line x1="351.9" y1="232" x2="367.3" y2="221.3" stroke-width="1.65"/>
<line x1="256" y1="267.5" x2="277.3" y2="253.3" stroke-width="1.65"/>
<line x1="185.3" y1="268" x2="205.3" y2="254.7" stroke-width="1.65"/>
<line x1="189.3" y1="289.9" x2="210.7" y2="276.5" stroke-width="1.65"/>
<line x1="112" y1="338" x2="137.3" y2="320" stroke-width="1.65"/>
<line x1="380.7" y1="326.7" x2="395.3" y2="340" stroke-width="1.65"/>
<line x1="113.3" y1="418.1" x2="136.7" y2="402" stroke-width="1.65"/>
<line x1="223.3" y1="414.7" x2="240.1" y2="403.5" stroke-width="1.65"/>
<line x1="246" y1="444" x2="267.3" y2="432" stroke-width="1.65"/>
<line x1="102.4" y1="470.9" x2="134.7" y2="448.9" stroke-width="1.65"/>
<line x1="300.7" y1="480" x2="319.3" y2="465.9" stroke-width="1.65"/>
<line x1="331.3" y1="521.3" x2="352.7" y2="505.3" stroke-width="1.65"/>
<line x1="173" y1="608.6" x2="198" y2="592.3" stroke-width="1.65"/>
<line x1="592" y1="108.5" x2="622.1" y2="88.8" stroke-width="1.65"/>
<line x1="635.2" y1="148.6" x2="659.2" y2="132.2" stroke-width="1.65"/>
<line x1="540" y1="172.5" x2="570.7" y2="172.5" stroke-width="1.65"/>
<line x1="559.2" y1="172.5" x2="569.9" y2="160" stroke-width="1.65"/>
<line x1="532" y1="193.9" x2="559.2" y2="193.9" stroke-width="1.65"/>
<line x1="610.7" y1="216.7" x2="632" y2="202" stroke-width="1.65"/>
<line x1="616.4" y1="271.6" x2="644" y2="253.4" stroke-width="1.65"/>
<line x1="661.7" y1="386.3" x2="687.5" y2="368.5" stroke-width="1.65"/>
<line x1="486.7" y1="400" x2="511.2" y2="384.5" stroke-width="1.65"/>
<line x1="528" y1="437.3" x2="549.3" y2="422.7" stroke-width="1.65"/>
<line x1="573.3" y1="482.7" x2="593.3" y2="468" stroke-width="1.65"/>
<line x1="602.7" y1="522.7" x2="624.8" y2="508" stroke-width="1.65"/>
<line x1="384" y1="708" x2="414" y2="688.5" stroke-width="1.65"/>
<line x1="664.7" y1="685.3" x2="695.3" y2="665.3" stroke-width="1.65"/>
<line x1="593.3" y1="714.7" x2="612" y2="703.5" stroke-width="1.65"/>
<line x1="501.3" y1="766.7" x2="525.3" y2="751.5" stroke-width="1.65"/>
<line x1="582.5" y1="792.6" x2="606.7" y2="776.3" stroke-width="1.65"/>
<line x1="153.3" y1="818" x2="174.7" y2="802.5" stroke-width="1.65"/>
<line x1="162.7" y1="850" x2="186.7" y2="832.7" stroke-width="1.65"/>
<line x1="185.3" y1="882" x2="209.3" y2="867.3" stroke-width="1.65"/>
<line x1="228" y1="882" x2="252.8" y2="864.1" stroke-width="1.65"/>
<line x1="307.5" y1="879" x2="334.5" y2="859.8" stroke-width="1.65"/>
<line x1="620.7" y1="858" x2="640.7" y2="844.7" stroke-width="1.65"/>
<line x1="672.7" y1="850" x2="696.1" y2="832.7" stroke-width="1.65"/>
<line x1="411" y1="927" x2="421.8" y2="919.2" stroke-width="1.65"/>
<text transform="translate(237.5,57) scale(0.7,1)" font-size="15.9" style="stroke:#111;stroke-width:0.55px">21</text>
<text transform="translate(253.5,81) scale(0.7,1)" font-size="15.9" style="stroke:#111;stroke-width:0.55px">17</text>
<text transform="translate(325.0,41) scale(0.7,1)" font-size="15.9" style="stroke:#111;stroke-width:0.55px">14</text>
<text transform="translate(351.0,56) scale(0.7,1)" font-size="15.9" style="stroke:#111;stroke-width:0.55px">15</text>
<text transform="translate(111.0,133) scale(0.7,1)" font-size="15.9" style="stroke:#111;stroke-width:0.55px">14</text>
<text transform="translate(124.5,155) scale(0.7,1)" font-size="15.9" style="stroke:#111;stroke-width:0.55px">15</text>
<text transform="translate(134.0,217) scale(0.7,1)" font-size="15.9" style="stroke:#111;stroke-width:0.55px">13</text>
<text transform="translate(432.0,167) scale(0.7,1)" font-size="15.9" style="stroke:#111;stroke-width:0.55px">6</text>
<text transform="translate(367.0,223) scale(0.7,1)" font-size="15.9" style="stroke:#111;stroke-width:0.55px">7</text>
<text transform="translate(247.0,276) scale(0.7,1)" font-size="15.9" style="stroke:#111;stroke-width:0.55px">6</text>
<text transform="translate(205.5,257) scale(0.7,1)" font-size="15.9" style="stroke:#111;stroke-width:0.55px">1</text>
<text transform="translate(211.5,279) scale(0.7,1)" font-size="15.9" style="stroke:#111;stroke-width:0.55px">2</text>
<text transform="translate(104.0,344) scale(0.7,1)" font-size="15.9" style="stroke:#111;stroke-width:0.55px">3</text>
<text transform="translate(396.0,349) scale(0.7,1)" font-size="15.9" style="stroke:#111;stroke-width:0.55px">3</text>
<text transform="translate(104.5,424) scale(0.7,1)" font-size="15.9" style="stroke:#111;stroke-width:0.55px">8</text>
<text transform="translate(241.5,403) scale(0.7,1)" font-size="15.9" style="stroke:#111;stroke-width:0.55px">16</text>
<text transform="translate(269.0,433) scale(0.7,1)" font-size="15.9" style="stroke:#111;stroke-width:0.55px">9</text>
<text transform="translate(90.0,482) scale(0.7,1)" font-size="15.9" style="stroke:#111;stroke-width:0.55px">11</text>
<text transform="translate(319.5,467) scale(0.7,1)" font-size="15.9" style="stroke:#111;stroke-width:0.55px">30</text>
<text transform="translate(353.0,505) scale(0.7,1)" font-size="15.9" style="stroke:#111;stroke-width:0.55px">20</text>
<text transform="translate(158.5,618) scale(0.7,1)" font-size="15.9" style="stroke:#111;stroke-width:0.55px">27</text>
<text transform="translate(623.0,89) scale(0.7,1)" font-size="15.9" style="stroke:#111;stroke-width:0.55px">4</text>
<text transform="translate(659.5,133) scale(0.7,1)" font-size="15.9" style="stroke:#111;stroke-width:0.55px">19</text>
<text transform="translate(531.5,177) scale(0.7,1)" font-size="15.9" style="stroke:#111;stroke-width:0.55px">2</text>
<text transform="translate(524.0,199) scale(0.7,1)" font-size="15.9" style="stroke:#111;stroke-width:0.55px">3</text>
<text transform="translate(636.0,201) scale(0.7,1)" font-size="15.9" style="stroke:#111;stroke-width:0.55px">5</text>
<text transform="translate(646.0,255) scale(0.7,1)" font-size="15.9" style="stroke:#111;stroke-width:0.55px">8</text>
<text transform="translate(688.5,368) scale(0.7,1)" font-size="15.9" style="stroke:#111;stroke-width:0.55px">12</text>
<text transform="translate(512.0,384) scale(0.7,1)" font-size="15.9" style="stroke:#111;stroke-width:0.55px">16</text>
<text transform="translate(550.0,423) scale(0.7,1)" font-size="15.9" style="stroke:#111;stroke-width:0.55px">9</text>
<text transform="translate(594.0,468) scale(0.7,1)" font-size="15.9" style="stroke:#111;stroke-width:0.55px">30</text>
<text transform="translate(625.0,508) scale(0.7,1)" font-size="15.9" style="stroke:#111;stroke-width:0.55px">20</text>
<text transform="translate(368.0,720) scale(0.7,1)" font-size="15.9" style="stroke:#111;stroke-width:0.55px">10</text>
<text transform="translate(694.5,667) scale(0.7,1)" font-size="15.9" style="stroke:#111;stroke-width:0.55px">18</text>
<text transform="translate(612.5,704) scale(0.7,1)" font-size="15.9" style="stroke:#111;stroke-width:0.55px">17</text>
<text transform="translate(487.0,775) scale(0.7,1)" font-size="15.9" style="stroke:#111;stroke-width:0.55px">18</text>
<text transform="translate(568.5,800) scale(0.7,1)" font-size="15.9" style="stroke:#111;stroke-width:0.55px">22</text>
<text transform="translate(176.0,802) scale(0.7,1)" font-size="15.9" style="stroke:#111;stroke-width:0.55px">29</text>
<text transform="translate(188.0,833) scale(0.7,1)" font-size="15.9" style="stroke:#111;stroke-width:0.55px">28</text>
<text transform="translate(211.0,869) scale(0.7,1)" font-size="15.9" style="stroke:#111;stroke-width:0.55px">25</text>
<text transform="translate(254.0,866) scale(0.7,1)" font-size="15.9" style="stroke:#111;stroke-width:0.55px">26</text>
<text transform="translate(336.5,859) scale(0.7,1)" font-size="15.9" style="stroke:#111;stroke-width:0.55px">24</text>
<text transform="translate(642.0,845) scale(0.7,1)" font-size="15.9" style="stroke:#111;stroke-width:0.55px">26</text>
<text transform="translate(696.5,833) scale(0.7,1)" font-size="15.9" style="stroke:#111;stroke-width:0.55px">25</text>
<text transform="translate(397.0,938) scale(0.7,1)" font-size="15.9" style="stroke:#111;stroke-width:0.55px">23</text>
</g>
<g style="font-weight:normal">
<text x="195.6" y="498.6" font-size="32.85" style="font-weight:normal;fill:#777;stroke:#777;stroke-width:1.2px;opacity:.5" textLength="359.6" lengthAdjust="spacingAndGlyphs">eReplacementParts.com</text>
<text x="194.1" y="497" font-size="32.85" style="font-weight:normal;fill:#fff;stroke:#fff;stroke-width:1.1px;opacity:.9" textLength="359.6" lengthAdjust="spacingAndGlyphs">eReplacementParts.com</text>
</g>
</svg>
</body></html>
